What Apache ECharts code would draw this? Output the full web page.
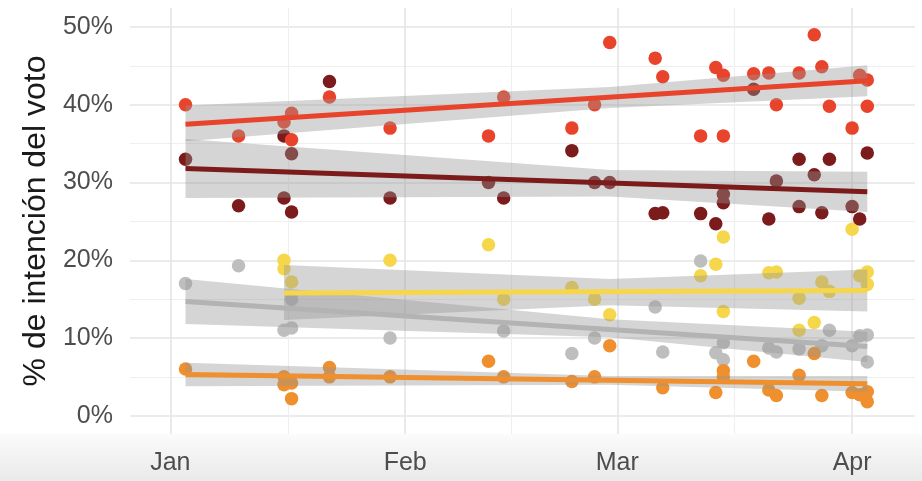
<!DOCTYPE html>
<html>
<head>
<meta charset="utf-8">
<script src="https://cdn.jsdelivr.net/npm/echarts@6/dist/echarts.min.js"></script>
<style>
html,body{margin:0;padding:0;background:#fff;}
#c{width:922px;height:481px;}
</style>
</head>
<body>
<div id="c"></div>
<script>
// ---- data (2019) ----
const redDates = ['01-03','01-10','01-16','01-17','01-17','01-22','01-30','02-12','02-14','02-23','02-26','02-28','03-06','03-07','03-12','03-14','03-15','03-15','03-19','03-21','03-22','03-25','03-27','03-28','03-29','04-01','04-02','04-03','04-03'];
const redVals  = [40,36,37.8,38.9,35.5,41,37,36,41,37,40,48,46,43.6,36,44.8,43.8,36,44,44.1,40,44.1,49,44.9,39.8,37,43.8,43.2,39.8];

const darkDates = ['01-03','01-10','01-16','01-16','01-17','01-17','01-22','01-30','02-12','02-14','02-23','02-26','02-28','03-06','03-07','03-12','03-14','03-15','03-15','03-19','03-21','03-22','03-25','03-25','03-27','03-28','03-29','04-01','04-02','04-03'];
const darkVals  = [33,27,36,28,33.7,26.2,43,28,30,28,34.1,30,30,26,26.1,26,24.7,28.5,27.4,42,25.3,30.2,33,26.9,31,26.1,33,26.9,25.3,33.8];

const yellowDates = ['01-16','01-16','01-17','01-30','02-12','02-14','02-23','02-26','02-28','03-12','03-14','03-15','03-15','03-21','03-22','03-25','03-25','03-27','03-28','03-29','04-01','04-02','04-03','04-03'];
const yellowVals  = [20,18.9,17.2,20,22,15,16.5,15,13,18,19.5,23,13.4,18.4,18.5,15.1,11,12,17.2,16,24,18,18.5,16.9];

const greyDates = ['01-03','01-10','01-16','01-17','01-17','01-30','02-14','02-23','02-26','03-06','03-07','03-12','03-14','03-15','03-15','03-21','03-22','03-25','03-28','03-29','04-01','04-02','04-03','04-03'];
const greyVals  = [17,19.3,11,15,11.3,10,10.9,8,10,14,8.2,19.9,8.1,9.4,7.2,8.7,8.2,8.6,9,11,9,10.3,10.4,6.9];

const orangeDates = ['01-03','01-16','01-16','01-17','01-17','01-22','01-22','01-30','02-12','02-14','02-23','02-26','02-28','03-07','03-14','03-15','03-15','03-19','03-21','03-22','03-25','03-27','03-28','04-01','04-02','04-03','04-03'];
const orangeVals  = [6,5,4,4.2,2.2,6.2,5,5,7,5,4.4,5,9,3.6,3,5.8,5,7,3.3,2.6,5.2,8,2.6,3,2.7,3.1,1.8];

// trend lines (start, end) and confidence bands (start, middle, end)
const redTrendDates = ['01-03','04-03'];     const redTrend = [37.5,43.1];
const redBandDates  = ['01-03','02-28','04-03']; const redLo = [35.3,39.6,41.1]; const redHi = [39.9,42.3,45.1];
const darkTrendDates = ['01-03','04-03'];    const darkTrend = [31.8,28.8];
const darkBandDates  = ['01-03','02-28','04-03']; const darkLo = [28.0,28.2,26.2]; const darkHi = [35.6,31.6,31.4];
const yellowTrendDates = ['01-16','04-03'];  const yellowTrend = [15.8,16.1];
const yellowBandDates  = ['01-16','02-28','04-03']; const yellowLo = [12.3,14.2,13.4]; const yellowHi = [19.4,17.6,18.8];
const greyTrendDates = ['01-03','04-03'];    const greyTrend = [14.7,8.9];
const greyBandDates  = ['01-03','02-28','04-03']; const greyLo = [11.8,10.1,6.9]; const greyHi = [17.6,12.4,10.8];
const orangeTrendDates = ['01-03','04-03'];  const orangeTrend = [5.3,4.1];
const orangeBandDates  = ['01-03','02-28','04-03']; const orangeLo = [3.8,4.0,3.1]; const orangeHi = [6.8,5.1,5.1];

const yTicks = [0,10,20,30,40,50];
const yMinor = [5,15,25,35,45];
const monthTicks = ['01-01','02-01','03-01','04-01'];
const monthLabels = ['Jan','Feb','Mar','Apr'];
// ---------------------

const DAY = 86400000;
function ts(md){ const p = md.split('-'); return Date.UTC(2019, +p[0]-1, +p[1]); }
function pairs(d, v){ return d.map((x,i)=>[ts(x), v[i]]); }

const COL = {red:'#E8432B', dark:'#7B1B1B', yellow:'#F6D74B', grey:'#BEBEBE', orange:'#EF8F2E'};

const xMin = ts('01-01') - 5.33*DAY;
const xMax = ts('04-01') + 8.3*DAY;
const majorX = monthTicks.map(ts);
const minorX = [];
for (let i=0;i<majorX.length-1;i++) minorX.push((majorX[i]+majorX[i+1])/2);

function scatter(d,v,c){
  return {type:'scatter', data:pairs(d,v), symbolSize:13.5, z:2,
    itemStyle:{color:c, opacity:1}, silent:true};
}
function trend(d,v,c){
  return {type:'line', data:pairs(d,v), showSymbol:false, symbol:'none', z:5,
    lineStyle:{color:c, width:5}, silent:true};
}
function band(d,lo,hi){
  return {type:'custom', z:3, silent:true, data:[[ts(d[0]), lo[0]]],
    renderItem:function(params, api){
      const pts = [];
      for (let i=0;i<d.length;i++) pts.push(api.coord([ts(d[i]), hi[i]]));
      for (let i=d.length-1;i>=0;i--) pts.push(api.coord([ts(d[i]), lo[i]]));
      return {type:'polygon', shape:{points:pts}, style:{fill:'rgba(150,150,150,0.4)'}};
    }};
}

const chart = echarts.init(document.getElementById('c'));
const labelFont = {fontFamily:'Liberation Sans, Arial, sans-serif', fontSize:25, color:'#4d4d4d'};
chart.setOption({
  animation:false,
  backgroundColor:'#ffffff',
  graphic:[
    {type:'rect', z:-10, shape:{x:0,y:434,width:922,height:47},
     style:{fill:new echarts.graphic.LinearGradient(0,0,0,1,[{offset:0,color:'#fbfbfb'},{offset:1,color:'#e9e9e9'}])}},
    {type:'text', x:36, y:221, rotation:Math.PI/2, z:10,
     style:{text:'% de intención del voto', fontFamily:'Liberation Sans, Arial, sans-serif', fontSize:32,
            fill:'#1a1a1a', align:'center', verticalAlign:'middle'}}
  ],
  grid:{left:130, right:7, top:8, bottom:47},
  xAxis:[
    {type:'value', min:xMin, max:xMax, scale:true,
     axisLine:{show:false}, axisTick:{show:false, customValues:majorX},
     axisLabel:Object.assign({customValues:majorX, margin:17, hideOverlap:false,
        formatter:function(v){ const i = majorX.indexOf(v); return i>=0 ? monthLabels[i] : ''; }}, labelFont),
     splitLine:{show:true, lineStyle:{color:'#e5e5e5', width:1.6}}},
    {type:'value', min:xMin, max:xMax, scale:true,
     axisLine:{show:false}, axisTick:{show:false, customValues:minorX},
     axisLabel:{show:false, customValues:minorX},
     splitLine:{show:true, lineStyle:{color:'#efefef', width:1.2}}}
  ],
  yAxis:[
    {type:'value', min:-2.35, max:52.45,
     axisLine:{show:false}, axisTick:{show:false, customValues:yTicks},
     axisLabel:Object.assign({customValues:yTicks, margin:17, formatter:'{value}%'}, labelFont),
     splitLine:{show:true, lineStyle:{color:'#e5e5e5', width:1.6}}},
    {type:'value', min:-2.35, max:52.45, position:'left',
     axisLine:{show:false}, axisTick:{show:false, customValues:yMinor},
     axisLabel:{show:false, customValues:yMinor},
     splitLine:{show:true, lineStyle:{color:'#efefef', width:1.2}}}
  ],
  series:[
    scatter(greyDates, greyVals, COL.grey),
    scatter(orangeDates, orangeVals, COL.orange),
    scatter(yellowDates, yellowVals, COL.yellow),
    scatter(darkDates, darkVals, COL.dark),
    scatter(redDates, redVals, COL.red),
    band(redBandDates, redLo, redHi),
    band(darkBandDates, darkLo, darkHi),
    band(yellowBandDates, yellowLo, yellowHi),
    band(greyBandDates, greyLo, greyHi),
    band(orangeBandDates, orangeLo, orangeHi),
    trend(greyTrendDates, greyTrend, '#b3b3b3'),
    trend(orangeTrendDates, orangeTrend, COL.orange),
    trend(yellowTrendDates, yellowTrend, COL.yellow),
    trend(darkTrendDates, darkTrend, COL.dark),
    trend(redTrendDates, redTrend, COL.red)
  ]
});
</script>
</body>
</html>
